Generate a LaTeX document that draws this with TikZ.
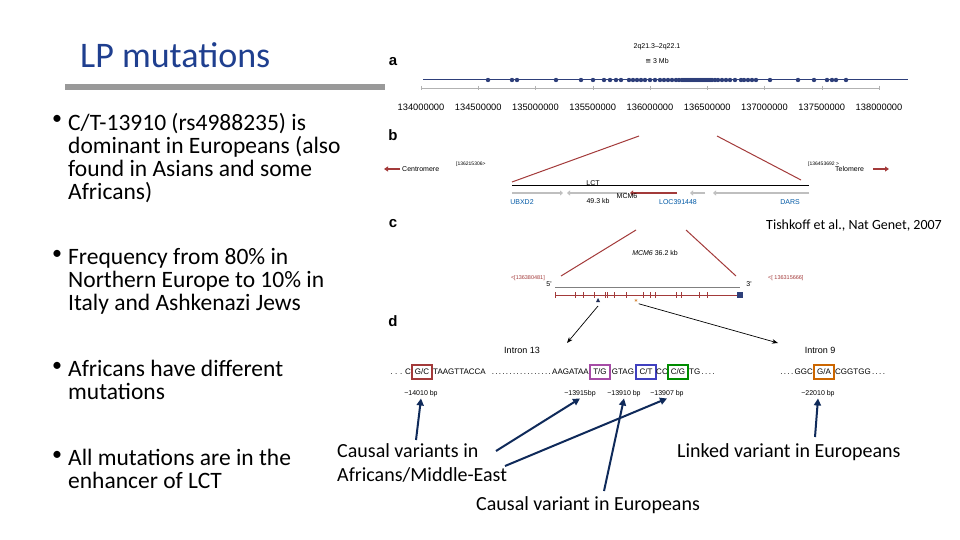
\documentclass[tikz,border=0pt]{standalone}
\usepackage{fontspec}
\setmainfont{Carlito}
\newfontfamily\figf{Liberation Sans}
\newfontfamily\symf{DejaVu Sans}
\usetikzlibrary{arrows.meta}
\definecolor{navy}{HTML}{2E3F7A}
\definecolor{dred}{HTML}{A33A3A}
\definecolor{tblue}{HTML}{1F3F8F}
\definecolor{arr}{HTML}{0F2A5A}
\begin{document}
\begin{tikzpicture}[x=1pt,y=-1pt,
  bul/.style={anchor=north west,align=left,font=\fontsize{23.5}{23}\selectfont,inner sep=0pt},
  fig/.style={font=\figf\fontsize{7}{8}\selectfont,inner sep=1pt},
  sq/.style={font=\figf\fontsize{8}{9}\selectfont,inner sep=0pt},
  sbox/.style={sq,draw=#1,line width=1.3pt,minimum width=20pt,minimum height=14pt,anchor=center},
  lab/.style={font=\figf\bfseries\fontsize{15}{15}\selectfont},
  redl/.style={dred,line width=1pt},
  garr/.style={gray!50,line width=1.5pt,-{Triangle[length=3pt,width=5pt]}},
  callout/.style={arr,line width=2pt,-{Triangle[length=7pt,width=7pt]}},
  note/.style={font=\fontsize{20}{24}\selectfont,align=left,inner sep=0pt}]
\useasboundingbox (0,0) rectangle (960,540);
\fill[white] (0,0) rectangle (960,540);
% title
\node[anchor=west,text=tblue,font=\fontsize{36}{38}\selectfont,inner sep=0pt] (title) at (80,55) {LP mutations};
\fill[gray!80] (65,84) rectangle (385,90);
% bullets
\foreach \y/\t in {113/{C/T-13910 (rs4988235) is\\dominant in Europeans (also\\found in Asians and some\\Africans)},
 248/{Frequency from 80\% in\\Northern Europe to 10\% in\\Italy and Ashkenazi Jews},
 360/{Africans have different\\mutations},
 449/{All mutations are in the\\enhancer of LCT}}{
 \node[bul] at (68,\y) {\t};
 \node[anchor=north west,inner sep=0pt,font=\fontsize{20}{23}\selectfont] at (52,\y+2) {•};
}
% panel a
\node[lab] (la) at (393,62) {a};
\node[fig] (chr) at (657,47) {2q21.3–2q22.1};
\node[fig] (mb) at (657,61) {{\symf ≅} 3 Mb};
\draw[navy,line width=1pt] (423,80) coordinate (a0) -- (908,80) coordinate (a1);
\foreach \x in {488,512,517,556,581,593,604,610,616,621,629,633,637,641,645,650,655,660,664,668,672,676,679,682,684,686,688,690,692,694,696,698,700,702,704,706,708,710,712,715,718,722,726,730,735,741,744,748,752,756,770,798,814,827,832,836,846}
  \fill[navy] (\x,80) circle (2.2pt);
\draw[gray!60,line width=0.8pt] (421,88) -- (879,88);
\foreach \i/\v in {0/1340,1/1345,2/1350,3/1355,4/1360,5/1365,6/1370,7/1375,8/1380}{
  \draw[gray!60] ({421+57.25*\i},86) -- ({421+57.25*\i},90);
  \node[fig,font=\figf\fontsize{9.3}{10}\selectfont] at ({421+57.25*\i},107) {\v00000};
}
% panel b
\node[lab] (lb) at (393,135) {b};
\draw[redl] (639,136) -- (512,182);
\draw[redl] (717,136) -- (801,180);
\draw[line width=0.7pt] (512,185) -- (809,185);
\draw[dred,line width=1.8pt,-{Triangle[length=4pt,width=5pt]}] (400,169) -- (384,169);
\node[fig,anchor=west] (cen) at (401,169) {Centromere};
\node[fig,anchor=west,font=\figf\fontsize{5}{6}\selectfont] at (455,164) {[136215306>};
\node[fig,anchor=west,font=\figf\fontsize{5}{6}\selectfont] at (807,164) {[136453692 >};
\node[fig,anchor=west] (tel) at (834,169) {Telomere};
\draw[dred,line width=1.8pt,-{Triangle[length=4pt,width=5pt]}] (873,169) -- (889,169);
\draw[garr] (512,193) -- (563,193);
\draw[garr] (627,193) -- (567,193);
\draw[dred,line width=1.5pt,-{Triangle[length=3pt,width=5pt]}] (677,193) -- (630,193);
\draw[garr] (705,193) -- (690,193);
\draw[garr] (809,193) -- (713,193);
\node[fig,text=teal!70!blue] at (522,202) {UBXD2};
\node[fig] at (593,183) {LCT};
\node[fig] at (598,201) {49.3 kb};
\node[fig] at (627,196) {MCM6};
\node[fig,text=teal!70!blue] at (678,202) {LOC391448};
\node[fig,text=teal!70!blue] at (790,202) {DARS};
% panel c
\node[lab] (lc) at (393,224) {c};
\node[font=\fontsize{14}{16}\selectfont,anchor=east,inner sep=0pt] (tish) at (942,226) {Tishkoff et al., Nat Genet, 2007};
\draw[redl] (636,230) -- (561,276);
\draw[redl] (686,230) -- (736,276);
\node[fig] at (655,253) {\textit{MCM6} 36.2 kb};
\node[fig,anchor=east,font=\figf\fontsize{5.5}{6}\selectfont,text=dred] at (546,278) {<[136380481]};
\node[fig,anchor=west,font=\figf\fontsize{5.5}{6}\selectfont,text=dred] at (767,278) {<[ 136315666]};
\node[fig] at (549,284) {5'};
\node[fig] at (749,284) {3'};
\draw[gray,line width=1pt] (555,287) -- (740,287);
\draw[dred,line width=0.8pt] (555,295) -- (740,295);
\foreach \x in {555,575,583,594,605,607,614,626,643,650,655,676,681,699,707}
  \draw[dred,line width=0.8pt] (\x,292) -- (\x,298);
\fill[navy] (737,292) rectangle (743,298);
\fill[navy!70!black] (598,298) -- (596,302) -- (600,302) -- cycle;
\node[text=orange!80!black,font=\fontsize{10}{10}\selectfont,inner sep=0pt] (star) at (636,303) {*};
\coordinate (tri) at (598,306);
\draw[-{Stealth[length=6pt]},line width=0.7pt] (tri) -- (567,343);
\draw[-{Stealth[length=6pt]},line width=0.7pt] (star) -- (778,343);
% panel d
\node[lab] (ld) at (393,321) {d};
\node[fig,font=\figf\fontsize{9}{10}\selectfont] at (522,350) {Intron 13};
\node[fig,font=\figf\fontsize{9}{10}\selectfont] at (820,350) {Intron 9};
\node[sq,anchor=east] (s1) at (411,372) {.\,\,.\,\,.\,\,C};
\node[sbox=dred] (b1) at (422,372) {G/C};
\node[sq,anchor=west] (s2) at (433,372) {TAAGTTACCA};
\node[sq,anchor=east] (s2b) at (589,372) {.\,.\,.\,.\,.\,.\,.\,.\,.\,.\,.\,.\,.\,.\,.\,.\,.\,AAGATAA};
\node[sbox=violet!70] (b2) at (600,372) {T/G};
\node[sq] (s3) at (623,372) {GTAG};
\node[sbox=blue!50!gray] (b3) at (646,372) {C/T};
\node[sq] (s4) at (662,372) {CC};
\node[sbox=green!55!black] (b4) at (678,372) {C/G};
\node[sq,anchor=west] (s5) at (689,372) {TG\,.\,.\,.\,.};
\node[sq,anchor=east] (s6) at (813,372) {.\,.\,.\,.\,GGC};
\node[sbox=orange!80!black] (b5) at (824,372) {G/A};
\node[sq,anchor=west] (s7) at (835,372) {CGGTGG\,.\,.\,.\,.};
\node[fig] (p1) at (421,394) {−14010 bp};
\node[fig] (p2) at (580,394) {−13915bp};
\node[fig] (p3) at (624,394) {−13910 bp};
\node[fig] (p4) at (667,394) {−13907 bp};
\node[fig] (p5) at (818,394) {−22010 bp};
% notes
\node[note,anchor=north west] (n1) at (337,443) {Causal variants in\\Africans/Middle-East};
\node[note,anchor=north west] (n2) at (476,496) {Causal variant in Europeans};
\node[note,anchor=north west] (n3) at (677,443) {Linked variant in Europeans};
\draw[callout] (416,440) -- (p1.south);
\draw[callout] (496,451) -- (p2.south);
\draw[callout] (505,466) -- (p4.south);
\draw[callout] (604,491) -- (p3.south);
\draw[callout] (815,437) -- (p5.south);
\end{tikzpicture}
\end{document}
